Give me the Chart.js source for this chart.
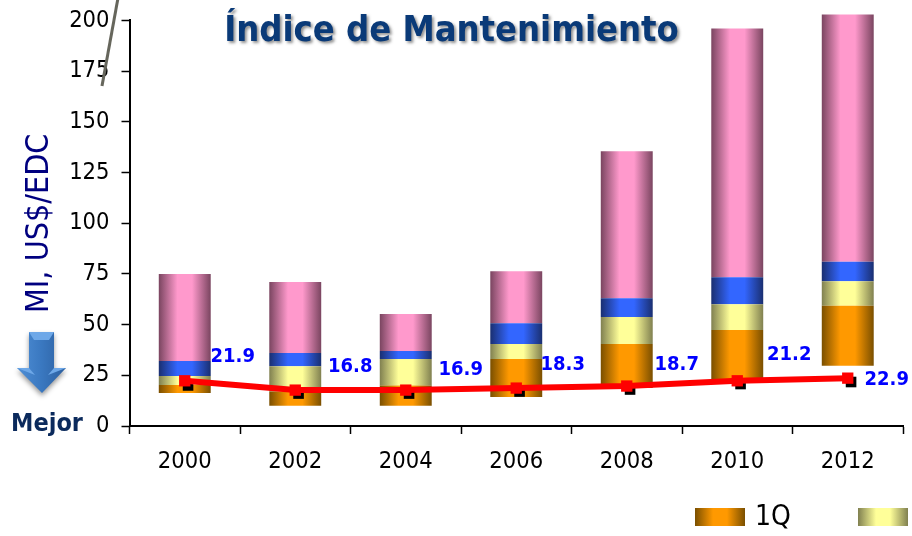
<!DOCTYPE html>
<html><head><meta charset="utf-8">
<style>html,body{margin:0;padding:0;background:#fff}canvas{display:block}</style>
<script src="https://cdn.jsdelivr.net/npm/chart.js@4"></script>
</head><body><canvas id="c" width="912" height="536"></canvas>
<script>
const years = ['2000','2002','2004','2006','2008','2010','2012'];
const yTicks = [0,25,50,75,100,125,150,175,200];
const q0 = [16.3, 10, 10, 14.3, 18.7, 22, 29.7];
const q1 = [20.2, 17, 20, 33, 40.4, 47.3, 59.3];
const q2 = [24.6, 29.5, 33, 40.4, 53.7, 60, 71.4];
const q3 = [32, 36, 37, 50.7, 63, 73.4, 81];
const q4 = [75, 71, 55.2, 76.3, 135.5, 196, 203];
const indice = [22.3, 17.7, 17.7, 18.7, 19.7, 22.3, 23.6];
const etiquetas = ['21.9','16.8','16.9','18.3','18.7','21.2','22.9'];
const mediana = [20, 16, 16, 17, 18, 20.7, 21.7];
const titulo = 'Índice de Mantenimiento';
const ejeY = 'MI, US$/EDC';
const mejor = 'Mejor';
const leyenda = '1Q';
const FONT = '"DejaVu Sans Condensed","DejaVu Sans",sans-serif';

function hGrad(ctx, x0, x1, edge, mid){
  const g = ctx.createLinearGradient(x0,0,x1,0);
  g.addColorStop(0,edge); g.addColorStop(.36,mid); g.addColorStop(.64,mid); g.addColorStop(1,edge);
  return g;
}
const BAR_FRAC = 0.47;
function barFill(edge, mid){
  return c => {
    const xs = c.chart.scales.x;
    if(c.type!=='data' || !xs) return mid;
    const cx = xs.getPixelForValue(c.dataIndex), w = xs.width/years.length*BAR_FRAC/2;
    if(!isFinite(cx) || !isFinite(w)) return mid;
    return hGrad(c.chart.ctx, cx-w, cx+w, edge, mid);
  };
}
function band(label, lo, hi, edge, mid){
  return {type:'bar', label, data: lo.map((v,i)=>[v,hi[i]]), backgroundColor: barFill(edge,mid),
    borderWidth:0, categoryPercentage:BAR_FRAC, barPercentage:1, grouped:false, clip:false, order:3};
}
const labelOffsets = [[48,-24],[55,-23],[55,-20],[46.5,-23],[50,-21],[52,-26],[39,2]];

const extras = {
  id:'extras',
  beforeDraw(chart){
    const ctx = chart.ctx, t = chart.titleBlock;
    ctx.save();
    ctx.font = 'bold 36px '+FONT;
    ctx.textAlign='center'; ctx.textBaseline='middle';
    ctx.shadowColor='rgba(70,70,70,.6)'; ctx.shadowBlur=3;
    ctx.shadowOffsetX=3002; ctx.shadowOffsetY=2;
    ctx.fillStyle='#000';
    ctx.fillText(titulo, (t.left+t.right)/2-3000, t.top+10.5+21.6);
    ctx.restore();
  },
  afterDraw(chart){
    const ctx = chart.ctx;
    ctx.save();
    ctx.strokeStyle='#66665c'; ctx.lineWidth=3;
    ctx.beginPath(); ctx.moveTo(118,-2); ctx.lineTo(102,86); ctx.stroke();
    ctx.save();
    ctx.shadowColor='rgba(0,0,0,.4)'; ctx.shadowBlur=5; ctx.shadowOffsetY=3;
    const ag = ctx.createLinearGradient(17,0,66,0);
    ag.addColorStop(0,'#4f8fd6'); ag.addColorStop(.5,'#3a78c0'); ag.addColorStop(1,'#2c5f9f');
    ctx.fillStyle=ag;
    ctx.beginPath();
    ctx.moveTo(29,332);ctx.lineTo(54,332);ctx.lineTo(54,368);ctx.lineTo(66,368);ctx.lineTo(42,393);ctx.lineTo(17,368);ctx.lineTo(29,368);ctx.closePath();
    ctx.fill();
    ctx.restore();
    ctx.fillStyle='#6ea8e8';
    ctx.beginPath();ctx.moveTo(29,332);ctx.lineTo(54,332);ctx.lineTo(49,340);ctx.lineTo(34,340);ctx.closePath();ctx.fill();
    ctx.beginPath();ctx.moveTo(17,368);ctx.lineTo(29,368);ctx.lineTo(35,375);ctx.closePath();ctx.fill();
    ctx.beginPath();ctx.moveTo(66,368);ctx.lineTo(54,368);ctx.lineTo(48,375);ctx.closePath();ctx.fill();
    ctx.fillStyle='#0b2a5c'; ctx.font='bold 25px '+FONT; ctx.textAlign='center'; ctx.textBaseline='middle';
    ctx.fillText(mejor, 47, 424);
    const meta = chart.getDatasetMeta(chart.data.datasets.findIndex(d=>d.label==='Indice'));
    ctx.fillStyle='#0000ff'; ctx.font='bold 20px '+FONT;
    meta.data.forEach((p,i)=>{
      ctx.fillText(etiquetas[i], p.x+labelOffsets[i][0], p.y+labelOffsets[i][1]);
    });
    ctx.fillStyle=hGrad(ctx,695,745,'#7a4f00','#ff9900'); ctx.fillRect(695,508,50,18);
    ctx.fillStyle=hGrad(ctx,858,908,'#808050','#ffff99'); ctx.fillRect(858,508,50,18);
    ctx.fillStyle='#000'; ctx.font='28px '+FONT; ctx.textAlign='left';
    ctx.fillText(leyenda, 755, 518);
    ctx.restore();
  }
};

new Chart(document.getElementById('c'),{
  type:'bar',
  plugins:[extras],
  data:{labels:years, datasets:[
    {type:'line',label:'Indice',data:indice,borderColor:'#ff0000',backgroundColor:'#ff0000',borderWidth:6,
     pointStyle:'rect',pointRadius:8,pointBorderWidth:0,tension:0,clip:false,order:0},
    {type:'line',label:'Mediana',xAxisID:'xPts',data:mediana.map((v,i)=>({x:i+0.03,y:v})),showLine:false,
     backgroundColor:'#000',borderColor:'#000',pointStyle:'rect',pointRadius:7.5,pointBorderWidth:0,clip:false,order:1},
    band('1Q',q0,q1,'#7a4f00','#ff9900'),
    band('2Q',q1,q2,'#808050','#ffff99'),
    band('3Q',q2,q3,'#1a2f70','#3366ff'),
    band('4Q',q3,q4,'#7a4560','#ff99cc')
  ]},
  options:{
    responsive:false,animation:false,
    layout:{padding:{left:0,right:9,top:0,bottom:0}},
    plugins:{
      legend:{display:false},tooltip:{enabled:false},
      title:{display:true,text:titulo,color:'#0a3a78',font:{family:FONT,size:36,weight:'bold'},
        padding:{top:10.5,bottom:-33.2}}
    },
    scales:{
      x:{type:'category',offset:true,
        grid:{offset:true,drawOnChartArea:false,drawTicks:true,tickLength:8,tickColor:'#000',tickWidth:1.5},
        border:{color:'#000',width:2},
        ticks:{color:'#000',font:{family:FONT,size:23.5},padding:14,maxRotation:0},
        afterFit(s){s.height=110;s.paddingLeft=0;s.paddingRight=0;}},
      xPts:{type:'linear',display:false,offset:false,min:-0.5,max:6.5},
      y:{min:0,max:200,
        afterBuildTicks(s){s.ticks=yTicks.map(v=>({value:v}));},
        grid:{drawOnChartArea:false,drawTicks:true,tickLength:8,tickColor:'#000',tickWidth:1.5},
        border:{color:'#000',width:2},
        ticks:{color:'#000',font:{family:FONT,size:23.5},padding:12},
        title:{display:true,text:ejeY,color:'#00007f',font:{family:FONT,size:32},padding:{top:20,bottom:0}},
        afterFit(s){s.width=129.5;s.paddingTop=0;s.paddingBottom=0;}}
    }
  }
});
</script></body></html>
